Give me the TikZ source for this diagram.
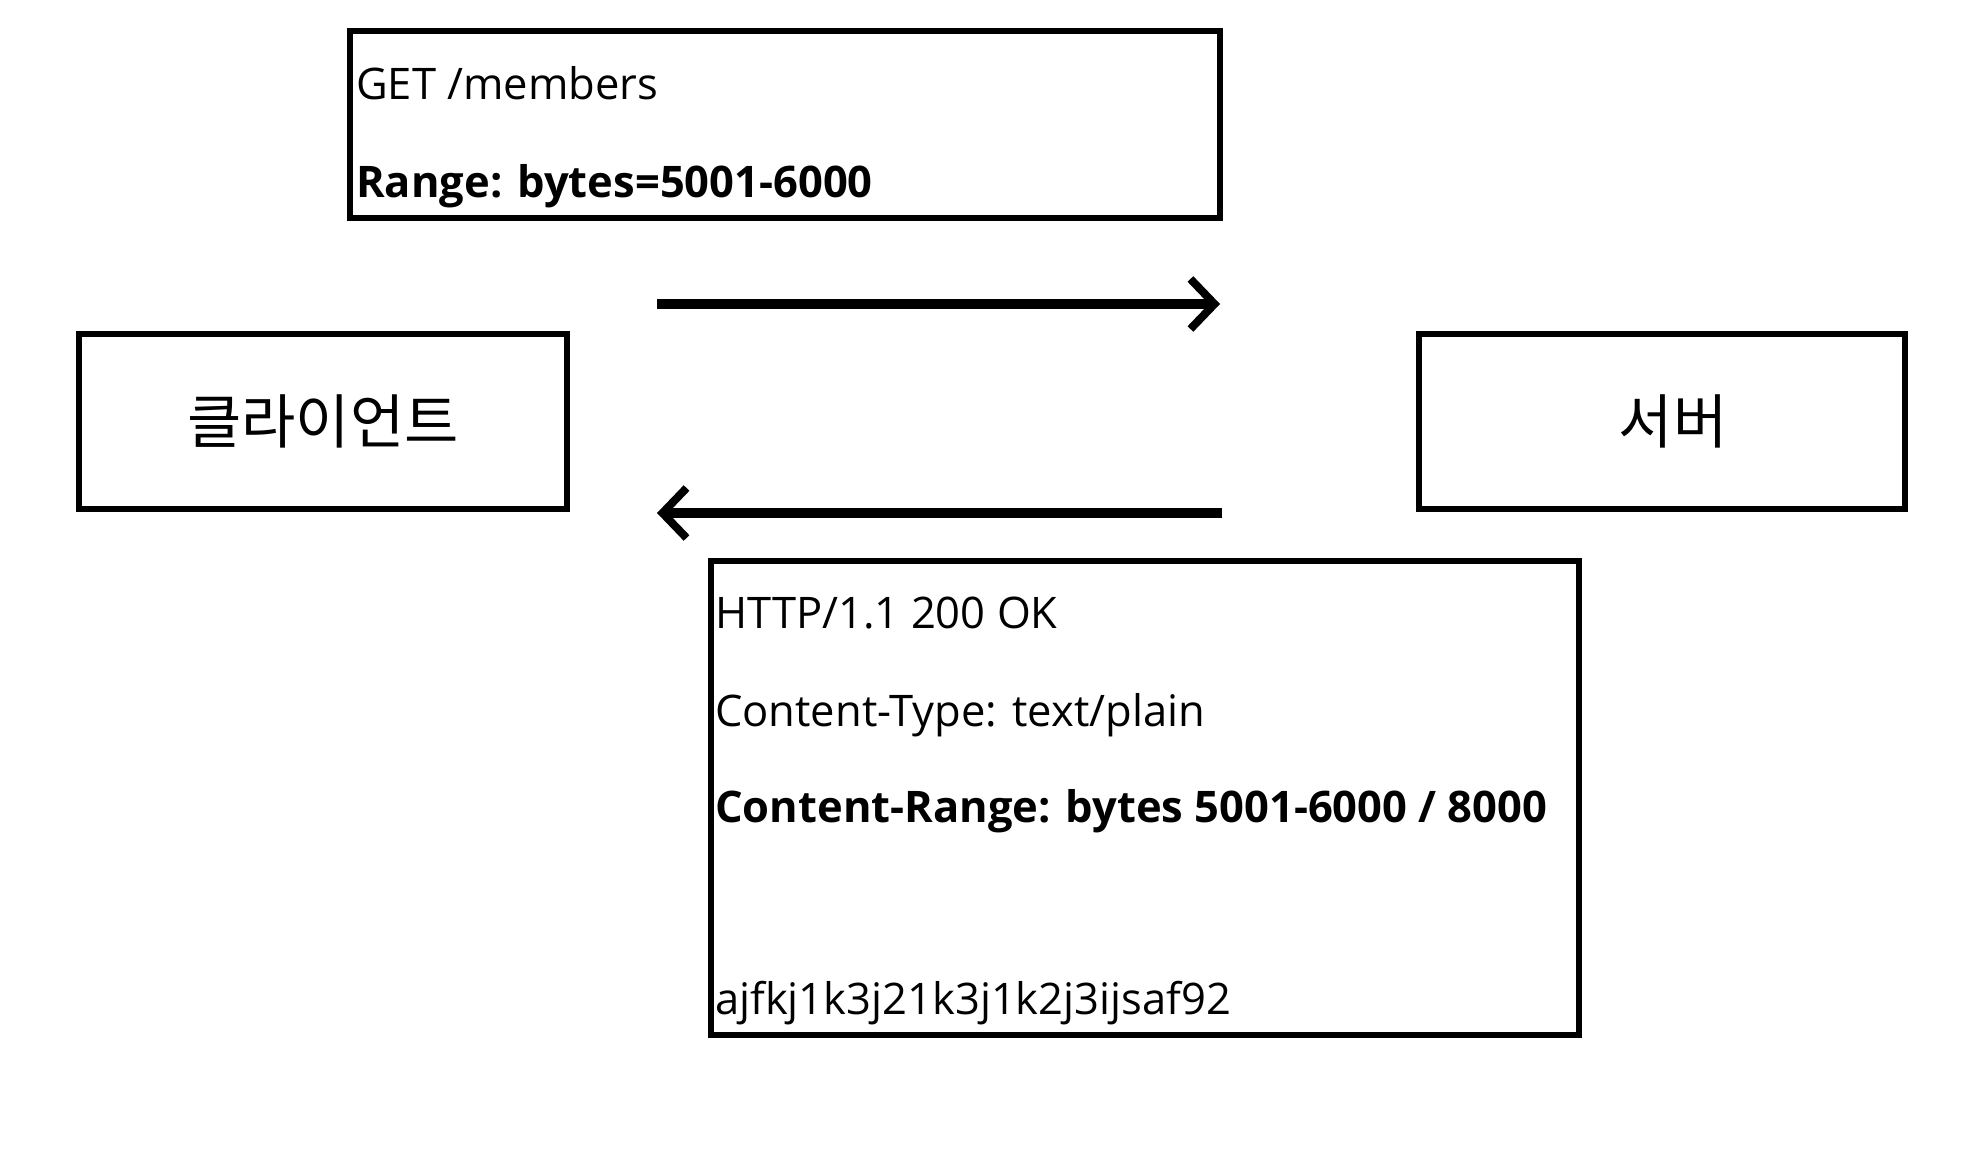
\documentclass[tikz,border=0pt]{standalone}
\usepackage{fontspec}
\setmainfont{Open Sans}
\newfontfamily\krfont{Noto Sans CJK KR}
\usetikzlibrary{arrows.meta}
\begin{document}
\begin{tikzpicture}[x=1pt,y=-1pt,
  box/.style={draw=black,line width=6pt,fill=white,inner sep=0pt,outer sep=0pt},
  line/.style={anchor=base west,inner sep=0pt,font=\fontsize{43.5}{50}\selectfont},
  boldline/.style={line,font=\fontsize{43.5}{50}\selectfont\bfseries},
  kr/.style={font=\fontsize{59}{64}\selectfont\krfont,inner sep=0pt},
  arr/.style={line width=10pt,-{Straight Barb[length=24pt,width=50pt,line width=8pt]}}]
\useasboundingbox[fill=white] (0,0) rectangle (1976,1150);
% request box
\node[box,minimum width=870pt,minimum height=187pt] (req) at (785,124.5) {};
\node[line] (l1) at (356,100) {GET /members};
\node[boldline] (l2) at (356,198) {Range: bytes=5001-6000};
% client / server
\node[box,minimum width=488pt,minimum height=175pt] (client) at (323,421.5) {};
\node[kr] (clientt) at (client.center) {클라이언트};
\node[box,minimum width=486pt,minimum height=175pt] (server) at (1662,421.5) {};
\node[kr] (servert) at ([xshift=11pt]server.center) {서버};
% response box
\node[box,minimum width=868pt,minimum height=474pt] (res) at (1145,798) {};
\node[line] (r1) at (715,628) {HTTP/1.1 200 OK};
\node[line] (r2) at (715,726) {Content-Type: text/plain};
\node[boldline] (r3) at (715,822) {Content-Range: bytes 5001-6000 / 8000};
\node[line] (r4) at (715,1014) {ajfkj1k3j21k3j1k2j3ijsaf92};
% arrows
\coordinate (a1s) at (657,304);
\coordinate (a1e) at (1220,304);
\coordinate (a2s) at (1222,513);
\coordinate (a2e) at (657,513);
\draw[arr] (a1s) -- (a1e);
\draw[arr] (a2s) -- (a2e);
\end{tikzpicture}
\end{document}
